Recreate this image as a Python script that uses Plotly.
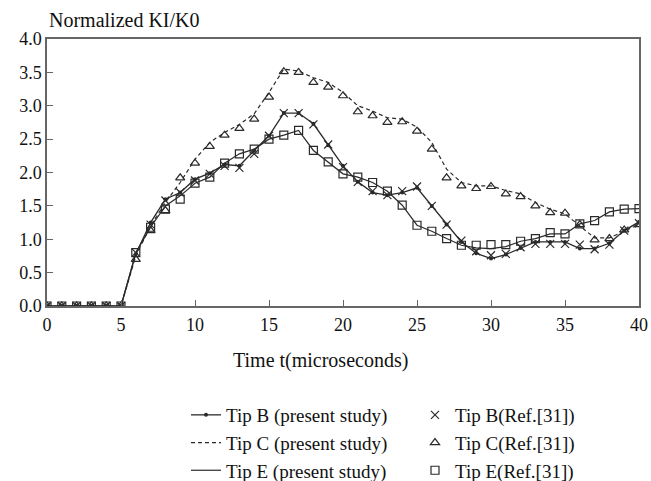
import plotly.graph_objects as go

t = list(range(0, 41))

tipB_present = [0, 0, 0, 0, 0, 0, 0.78, 1.25, 1.60, 1.70, 1.90, 1.99, 2.12, 2.10, 2.33, 2.55,
                2.89, 2.89, 2.73, 2.41, 2.10, 1.86, 1.70, 1.66, 1.70, 1.77, 1.50, 1.22, 0.96,
                0.79, 0.71, 0.77, 0.87, 0.96, 0.96, 0.96, 0.86, 0.86, 0.94, 1.13, 1.26]
tipB_ref = [0, 0, 0, 0, 0, 0, 0.80, 1.22, 1.58, 1.70, 1.88, 1.98, 2.10, 2.07, 2.28, 2.55,
            2.89, 2.89, 2.72, 2.42, 2.08, 1.86, 1.72, 1.66, 1.72, 1.79, 1.50, 1.22, 0.98,
            0.82, 0.76, 0.78, 0.88, 0.93, 0.93, 0.93, 0.92, 0.85, 0.92, 1.13, 1.24]
tipC_present = [0, 0, 0, 0, 0, 0, 0.75, 1.20, 1.55, 1.85, 2.20, 2.45, 2.60, 2.72, 2.88, 3.20,
                3.55, 3.52, 3.42, 3.35, 3.20, 3.00, 2.92, 2.82, 2.80, 2.68, 2.45, 2.05, 1.85,
                1.80, 1.80, 1.73, 1.68, 1.55, 1.45, 1.38, 1.20, 1.02, 1.02, 1.12, 1.22]
tipC_ref = [0, 0, 0, 0, 0, 0, 0.70, 1.13, 1.43, 1.92, 2.14, 2.39, 2.56, 2.66, 2.80, 3.13,
            3.51, 3.50, 3.35, 3.28, 3.15, 2.91, 2.85, 2.75, 2.76, 2.62, 2.35, 1.92, 1.80,
            1.76, 1.79, 1.68, 1.64, 1.50, 1.40, 1.39, 1.22, 0.99, 1.01, 1.14, 1.22]
tipE_present = [0, 0, 0, 0, 0, 0, 0.80, 1.18, 1.50, 1.65, 1.84, 1.93, 2.14, 2.28, 2.35, 2.50,
                2.56, 2.63, 2.33, 2.16, 1.98, 1.93, 1.85, 1.72, 1.51, 1.21, 1.12, 1.01, 0.91,
                0.87, 0.86, 0.89, 0.97, 1.01, 1.08, 1.08, 1.23, 1.28, 1.41, 1.45, 1.46]
tipE_ref = [0, 0, 0, 0, 0, 0, 0.80, 1.18, 1.45, 1.60, 1.84, 1.93, 2.14, 2.28, 2.35, 2.50,
            2.56, 2.63, 2.33, 2.16, 1.98, 1.93, 1.85, 1.72, 1.51, 1.21, 1.12, 1.01, 0.91,
            0.91, 0.92, 0.92, 0.97, 1.01, 1.10, 1.08, 1.23, 1.28, 1.41, 1.45, 1.46]

x_ticks = [0, 5, 10, 15, 20, 25, 30, 35, 40]
y_ticks = [0.0, 0.5, 1.0, 1.5, 2.0, 2.5, 3.0, 3.5, 4.0]

ink = "#2a2a2a"
font_family = "Liberation Serif"

fig = go.Figure()

fig.add_trace(go.Scatter(x=t, y=tipB_present, mode="lines+markers", name="Tip B (present study)",
                         line=dict(color=ink, width=1.3), marker=dict(symbol="circle", size=4, color=ink),
                         legend="legend", legendgroup="b"))
fig.add_trace(go.Scatter(x=t, y=tipC_present, mode="lines", name="Tip C (present study)",
                         line=dict(color=ink, width=1.2, dash="4px,3px"),
                         legend="legend", legendgroup="c"))
fig.add_trace(go.Scatter(x=t, y=tipE_present, mode="lines", name="Tip E (present study)",
                         line=dict(color=ink, width=1.2),
                         legend="legend", legendgroup="e"))
fig.add_trace(go.Scatter(x=t, y=tipB_ref, mode="markers", name="Tip B(Ref.[31])",
                         marker=dict(symbol="x-thin-open", size=8, color=ink, line=dict(color=ink, width=1.2)),
                         legend="legend2", legendgroup="b2"))
fig.add_trace(go.Scatter(x=t, y=tipC_ref, mode="markers", name="Tip C(Ref.[31])",
                         marker=dict(symbol="triangle-up-open", size=8, color=ink, line=dict(color=ink, width=1.2)),
                         legend="legend2", legendgroup="c2"))
fig.add_trace(go.Scatter(x=t, y=tipE_ref, mode="markers", name="Tip E(Ref.[31])",
                         marker=dict(symbol="square-open", size=8, color=ink, line=dict(color=ink, width=1.2)),
                         legend="legend2", legendgroup="e2"))

axis_common = dict(showgrid=False, zeroline=False, showline=True, linecolor="#666", linewidth=1.5,
                   mirror=True, ticks="inside", ticklen=6, tickcolor="#666", tickwidth=1.2,
                   tickfont=dict(family=font_family, size=18, color="#111"))

fig.update_xaxes(range=[0, 40], tickvals=x_ticks, ticktext=[str(v) for v in x_ticks],
                 ticklabelstandoff=2, **axis_common)
fig.update_yaxes(range=[0, 4], tickvals=y_ticks, ticktext=[f"{v:.1f}" for v in y_ticks],
                 ticklabelstandoff=0, **axis_common)

legend_common = dict(font=dict(family=font_family, size=19, color="#111"), bgcolor="rgba(0,0,0,0)",
                     xref="container", yref="container", xanchor="left", yanchor="top",
                     tracegroupgap=0, itemwidth=30)

fig.update_layout(
    width=651, height=481,
    margin=dict(l=47, r=12, t=39, b=175, autoexpand=False),
    plot_bgcolor="white", paper_bgcolor="white",
    font=dict(family=font_family, color="#111"),
    legend=dict(x=186 / 651, y=1 - 396 / 481, **legend_common),
    legend2=dict(x=415 / 651, y=1 - 396 / 481, **legend_common),
    annotations=[
        dict(text="Normalized KI/K0", xref="paper", yref="paper", x=0, y=1.072,
             xanchor="left", yanchor="middle", showarrow=False,
             font=dict(family=font_family, size=20, color="#111")),
        dict(text="Time t(microseconds)", xref="paper", yref="paper", x=0.462, y=-0.205,
             xanchor="center", yanchor="middle", showarrow=False,
             font=dict(family=font_family, size=20, color="#111")),
    ],
)

fig.write_html("out.html")
